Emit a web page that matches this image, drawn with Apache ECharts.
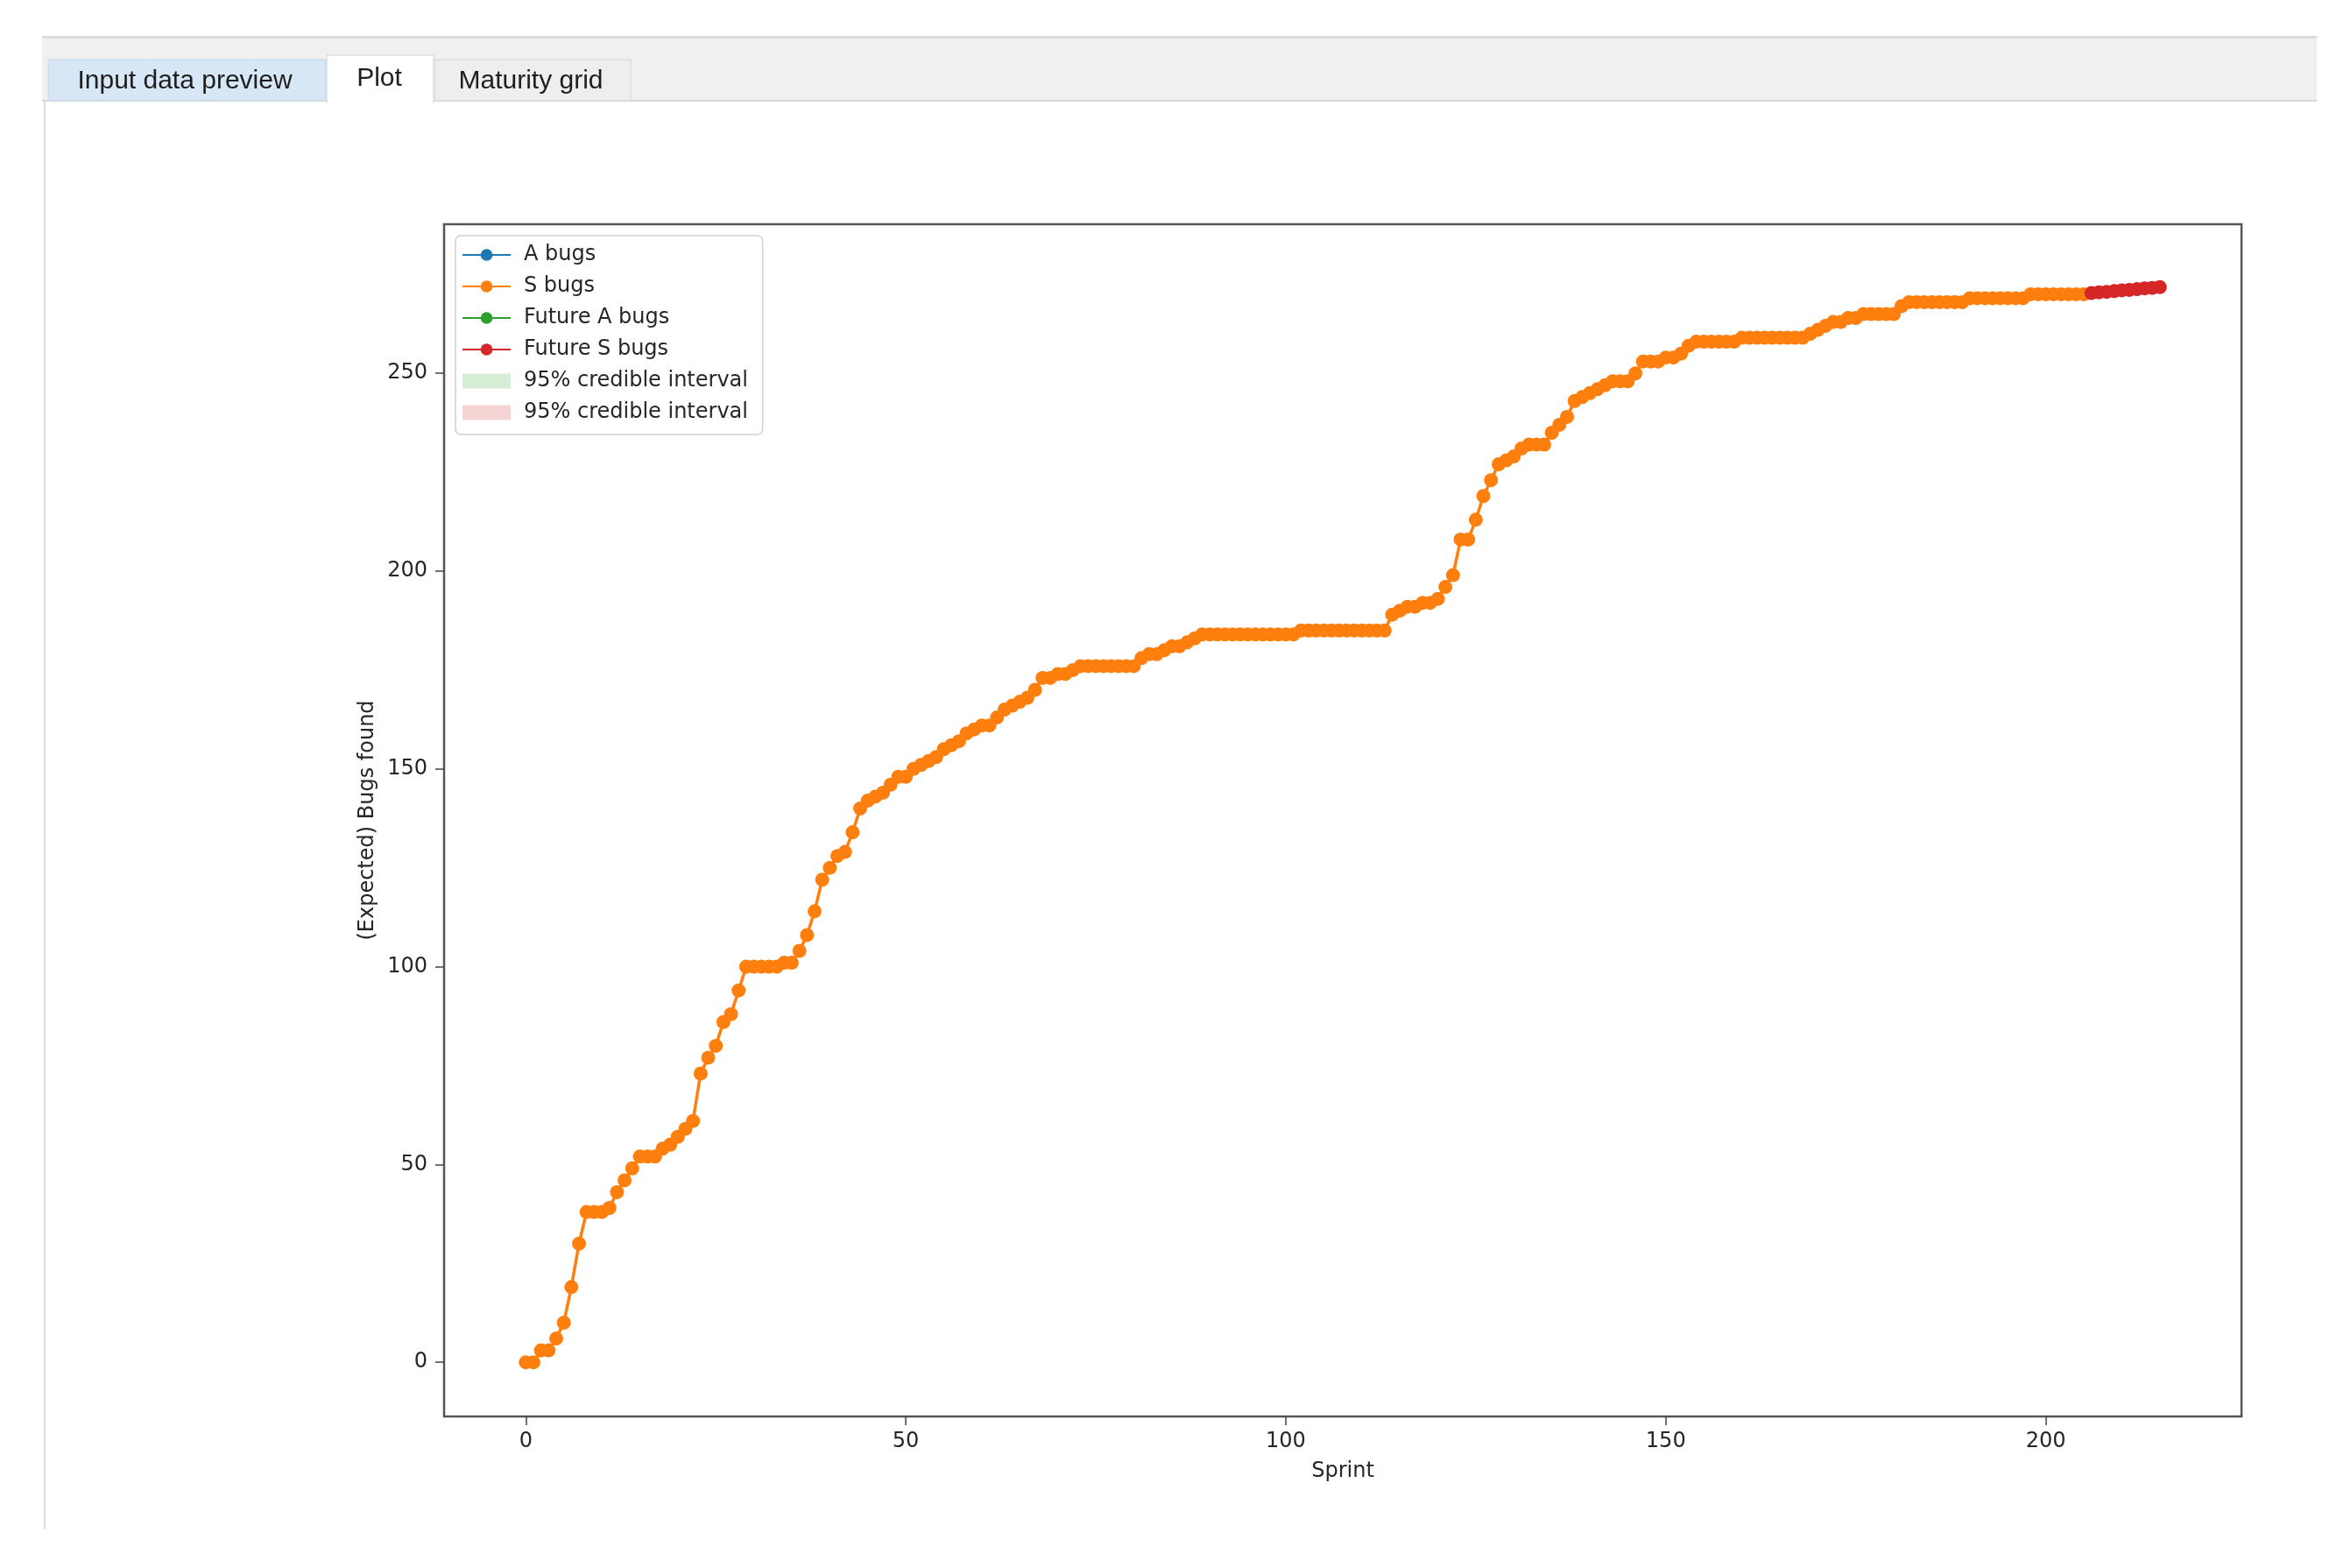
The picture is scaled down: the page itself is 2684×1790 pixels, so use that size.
<!DOCTYPE html>
<html><head><meta charset="utf-8">
<script src="https://cdn.jsdelivr.net/npm/echarts@6/dist/echarts.min.js"></script>
<style>html,body{margin:0;padding:0;background:#fff}#chart{width:2684px;height:1790px}</style>
</head><body><div id="chart"></div>
<script>
// ---- data ----
const tabLabels = ['Input data preview', 'Plot', 'Maturity grid'];
const legendNames = ['A bugs', 'S bugs', 'Future A bugs', 'Future S bugs', '95% credible interval', '95% credible interval '];
const xTicks = [0, 50, 100, 150, 200];
const yTicks = [0, 50, 100, 150, 200, 250];
const xAxisName = 'Sprint';
const yAxisName = '(Expected) Bugs found';

// observed bugs, index = sprint number (0..205)
const aBugs = [];
const sBugs = [
  0, 0, 3, 3, 6, 10, 19, 30, 38, 38,
  38, 39, 43, 46, 49, 52, 52, 52, 54, 55,
  57, 59, 61, 73, 77, 80, 86, 88, 94, 100,
  100, 100, 100, 100, 101, 101, 104, 108, 114, 122,
  125, 128, 129, 134, 140, 142, 143, 144, 146, 148,
  148, 150, 151, 152, 153, 155, 156, 157, 159, 160,
  161, 161, 163, 165, 166, 167, 168, 170, 173, 173,
  174, 174, 175, 176, 176, 176, 176, 176, 176, 176,
  176, 178, 179, 179, 180, 181, 181, 182, 183, 184,
  184, 184, 184, 184, 184, 184, 184, 184, 184, 184,
  184, 184, 185, 185, 185, 185, 185, 185, 185, 185,
  185, 185, 185, 185, 189, 190, 191, 191, 192, 192,
  193, 196, 199, 208, 208, 213, 219, 223, 227, 228,
  229, 231, 232, 232, 232, 235, 237, 239, 243, 244,
  245, 246, 247, 248, 248, 248, 250, 253, 253, 253,
  254, 254, 255, 257, 258, 258, 258, 258, 258, 258,
  259, 259, 259, 259, 259, 259, 259, 259, 259, 260,
  261, 262, 263, 263, 264, 264, 265, 265, 265, 265,
  265, 267, 268, 268, 268, 268, 268, 268, 268, 268,
  269, 269, 269, 269, 269, 269, 269, 269, 270, 270,
  270, 270, 270, 270, 270, 270
];
// forecast
const futureSprints = [206, 207, 208, 209, 210, 211, 212, 213, 214, 215];
const futureS = [270.3, 270.5, 270.6, 270.8, 271.0, 271.1, 271.3, 271.5, 271.6, 271.8];
const futureA = [];
const ciA = [];
const ciS = [];

// ---- chart ----
const FONT = 'DejaVu Sans';
const TXT = '#262626';
const chart = echarts.init(document.getElementById('chart'), null, {renderer: 'canvas'});

const lineSeries = (name, color, data, z) => ({
  name, type: 'line', data, z,
  symbol: 'circle', symbolSize: 16, showSymbol: true,
  itemStyle: {color}, lineStyle: {color, width: 3.5},
  emphasis: {disabled: true}, animation: false
});
const bandSeries = (name, color, data) => ({
  name, type: 'line', data, symbol: 'none',
  itemStyle: {color}, lineStyle: {width: 0, color},
  areaStyle: {color}, animation: false
});

const option = {
  animation: false,
  backgroundColor: '#ffffff',
  grid: {left: 507, top: 256, width: 2052, height: 1361, show: true,
         borderColor: '#555555', borderWidth: 2.5, backgroundColor: '#ffffff'},
  xAxis: {
    type: 'value', min: -10.75, max: 225.75,
    splitLine: {show: false},
    axisLine: {show: false, onZero: false},
    axisTick: {show: true, length: 10, customValues: xTicks, lineStyle: {color: '#444', width: 1.5}},
    axisLabel: {customValues: xTicks, fontFamily: FONT, fontSize: 24, color: TXT, margin: 17},
    name: xAxisName, nameLocation: 'middle', nameGap: 51,
    nameTextStyle: {fontFamily: FONT, fontSize: 24, color: TXT}
  },
  yAxis: {
    type: 'value', min: -13.7, max: 287.7,
    splitLine: {show: false},
    axisLine: {show: false, onZero: false},
    axisTick: {show: true, length: 10, customValues: yTicks, lineStyle: {color: '#444', width: 1.5}},
    axisLabel: {customValues: yTicks, fontFamily: FONT, fontSize: 24, color: TXT, margin: 19},
    name: yAxisName, nameLocation: 'middle', nameGap: 73, nameRotate: 90,
    nameTextStyle: {fontFamily: FONT, fontSize: 24, color: TXT}
  },
  legend: {
    orient: 'vertical', left: 520, top: 269,
    itemWidth: 55, itemHeight: 17, itemGap: 10,
    padding: [9, 9, 12, 7],
    backgroundColor: 'rgba(255,255,255,0.85)', borderColor: '#d0d0d0', borderWidth: 1.5, borderRadius: 6,
    selectedMode: false,
    textStyle: {fontFamily: FONT, fontSize: 24, color: TXT, lineHeight: 26, padding: [0, 0, 0, 10]},
    data: [
      {name: legendNames[0]}, {name: legendNames[1]}, {name: legendNames[2]}, {name: legendNames[3]},
      {name: legendNames[4], icon: 'rect'}, {name: legendNames[5], icon: 'rect'}
    ]
  },
  graphic: [
    {type: 'rect', shape: {x: 48, y: 42, width: 2597, height: 74}, style: {fill: '#f0f0f0'}, silent: true},
    {type: 'rect', shape: {x: 48, y: 41, width: 2597, height: 3}, style: {fill: '#dcdcdc'}, silent: true},
    {type: 'rect', shape: {x: 48, y: 114, width: 2597, height: 2}, style: {fill: '#d8d8d8'}, silent: true},
    {type: 'rect', shape: {x: 50, y: 116, width: 2, height: 1630}, style: {fill: '#dedede'}, silent: true},
    {type: 'rect', shape: {x: 55, y: 68, width: 317, height: 47}, style: {fill: '#d8e7f6', stroke: '#c5d5e6', lineWidth: 1}, silent: true},
    {type: 'rect', shape: {x: 496, y: 68, width: 224, height: 47}, style: {fill: '#eeeeee', stroke: '#d4d4d4', lineWidth: 1}, silent: true},
    {type: 'rect', shape: {x: 373, y: 63, width: 122, height: 54}, style: {fill: '#ffffff', stroke: '#d4d4d4', lineWidth: 1}, silent: true},
    {type: 'rect', shape: {x: 374, y: 112, width: 120, height: 6}, style: {fill: '#ffffff'}, silent: true},
    {type: 'text', x: 211, y: 93, style: {text: tabLabels[0], font: '30px "Liberation Sans"', fill: '#1e1e1e', textAlign: 'center', textVerticalAlign: 'middle'}, silent: true},
    {type: 'text', x: 433, y: 90, style: {text: tabLabels[1], font: '30px "Liberation Sans"', fill: '#1e1e1e', textAlign: 'center', textVerticalAlign: 'middle'}, silent: true},
    {type: 'text', x: 606, y: 93, style: {text: tabLabels[2], font: '30px "Liberation Sans"', fill: '#1e1e1e', textAlign: 'center', textVerticalAlign: 'middle'}, silent: true}
  ],
  series: [
    lineSeries(legendNames[0], '#1f77b4', aBugs.map((v, i) => [i, v]), 2),
    lineSeries(legendNames[1], '#ff7f0e', sBugs.map((v, i) => [i, v]), 3),
    lineSeries(legendNames[2], '#2ca02c', futureA.map((v, i) => [futureSprints[i], v]), 4),
    lineSeries(legendNames[3], '#d62728', futureS.map((v, i) => [futureSprints[i], v]), 5),
    bandSeries(legendNames[4], '#d5ecd5', ciA),
    bandSeries(legendNames[5], '#f7d4d4', ciS)
  ]
};
chart.setOption(option);
</script></body></html>
